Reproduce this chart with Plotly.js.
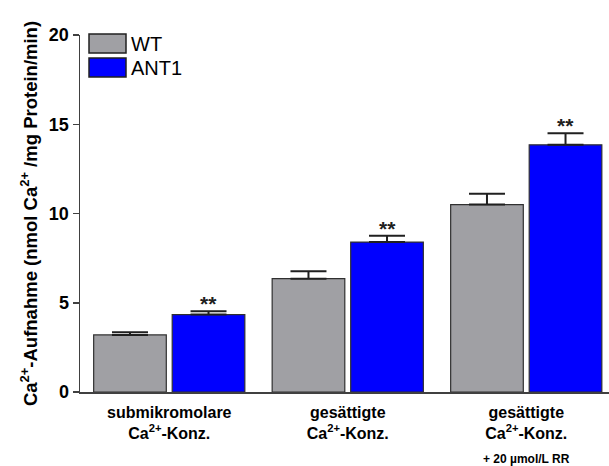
<!DOCTYPE html>
<html>
<head>
<meta charset="utf-8">
<script src="https://cdn.plot.ly/plotly-3.0.1.min.js"></script>
<style>html,body{margin:0;padding:0;background:#fff;}#chart{width:609px;height:466px;}</style>
</head>
<body>
<div id="chart"></div>
<script>
// ---- data ----
const categories = ["submikromolare<br>Ca<sup>2+</sup>-Konz.", "gesättigte<br>Ca<sup>2+</sup>-Konz.", "gesättigte<br>Ca<sup>2+</sup>-Konz."];
const categoryNote = "+ 20 µmol/L RR";
const seriesNames = ["WT", "ANT1"];
const wtValues = [3.2, 6.35, 10.5];
const wtErrors = [0.15, 0.41, 0.6];
const antValues = [4.34, 8.4, 13.85];
const antErrors = [0.19, 0.35, 0.65];
const significance = ["**", "**", "**"];
const yTicks = [0, 5, 10, 15, 20];

// ---- layout helpers ----
const W = 609, H = 466;
const M = {l: 80, r: 0, t: 35, b: 74};
const PW = W - M.l - M.r, PH = H - M.t - M.b;
const px = x => (x - M.l) / PW;
const py = y => (H - M.b - y) / PH;
const FONT = "Liberation Sans, Arial, sans-serif";
const colors = ["#a0a0a4", "#0000ff"];
const bargap = 0.12, bargroupgap = 0.075;
const xIdx = categories.map((c, i) => i);

const mkTrace = (name, vals, errs, color) => ({
  type: "bar", name: name, x: xIdx, y: vals,
  marker: {color: color, line: {color: "#303030", width: 1.2}},
  error_y: {type: "data", symmetric: false, array: errs, arrayminus: errs.map(() => 0),
            color: "#202020", thickness: 2, width: 18},
  showlegend: false, hoverinfo: "skip"
});

const data = [
  mkTrace(seriesNames[0], wtValues, wtErrors, colors[0]),
  mkTrace(seriesNames[1], antValues, antErrors, colors[1])
];

const slot = (1 - bargap) / 2;
const annotations = significance.map((s, i) => ({
  x: i + slot / 2, y: antValues[i] + antErrors[i], xref: "x", yref: "y",
  text: s, showarrow: false, yanchor: "bottom", yshift: -6,
  font: {family: FONT, size: 21, color: "#202020", weight: "bold"}
}));
annotations.push({
  x: 2, y: py(459), xref: "x", yref: "paper", text: categoryNote, showarrow: false,
  yanchor: "middle", font: {family: FONT, size: 12, color: "#000", weight: "bold"}
});

// legend (custom keys)
const legendRows = [{y0: 34, y1: 53}, {y0: 58, y1: 77}];
const shapes = [];
seriesNames.forEach((n, i) => {
  const r = legendRows[i];
  shapes.push({type: "rect", xref: "paper", yref: "paper",
    x0: px(89), x1: px(126), y0: py(r.y1), y1: py(r.y0),
    fillcolor: colors[i], line: {color: "#202020", width: 1.5}});
  annotations.push({x: px(129), y: py((r.y0 + r.y1) / 2 + 0.5), xref: "paper", yref: "paper",
    text: n, showarrow: false, xanchor: "left", yanchor: "middle",
    font: {family: FONT, size: 20, color: "#000"}});
});

const layout = {
  width: W, height: H, margin: M,
  paper_bgcolor: "#fff", plot_bgcolor: "#fff",
  barmode: "group", bargap: bargap, bargroupgap: bargroupgap,
  xaxis: {
    type: "linear", range: [-0.5, -0.5 + PW / 178.5],
    tickvals: xIdx, ticktext: categories, ticks: "", ticklabelstandoff: 5,
    showline: true, linecolor: "#404040", linewidth: 1.5,
    showgrid: false, zeroline: false,
    tickfont: {family: FONT, size: 16, color: "#000", weight: "bold"}
  },
  yaxis: {
    range: [0, 20], tickvals: yTicks, ticks: "outside", ticklen: 6, tickwidth: 1.5, tickcolor: "#404040",
    showline: true, linecolor: "#404040", linewidth: 1.5,
    showgrid: false, zeroline: false,
    tickfont: {family: FONT, size: 18, color: "#000", weight: "bold"},
    title: {text: "Ca<sup>2+</sup>-Aufnahme (nmol Ca<sup>2+</sup> /mg Protein/min)", standoff: 6,
            font: {family: FONT, size: 18.5, color: "#000", weight: "bold"}}
  },
  annotations: annotations, shapes: shapes, showlegend: false
};

Plotly.newPlot("chart", data, layout, {staticPlot: true, displayModeBar: false});
</script>
</body>
</html>
